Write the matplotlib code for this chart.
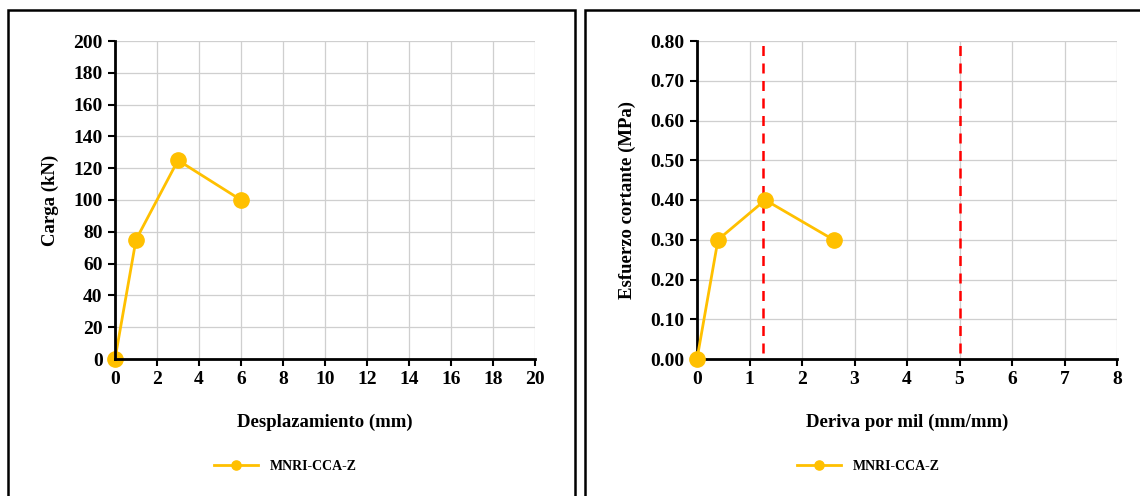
import matplotlib
matplotlib.use('Agg')
import matplotlib.pyplot as plt
from matplotlib.patches import Rectangle

# datos
desp = [0, 1, 3, 6]
carga = [0, 75, 125, 100]
deriva = [0, 0.4, 1.3, 2.6]
esfuerzo = [0, 0.30, 0.40, 0.30]
limites = [1.25, 5]
serie = 'MNRI-CCA-Z'

plt.rcParams['font.family'] = ['Liberation Serif', 'DejaVu Serif']
plt.rcParams['font.weight'] = 'bold'

color = '#FFC000'
fig = plt.figure(figsize=(11.4, 4.96), dpi=100)

# marcos de cada panel
for x0, x1 in [(8, 575), (585, 1145)]:
    fig.patches.append(Rectangle((x0 / 1140, -0.02), (x1 - x0) / 1140, 1 - 10 / 496 + 0.02,
                                 transform=fig.transFigure, fill=False, edgecolor='black', linewidth=1.8))

def estilo(ax):
    for s in ['top', 'right']:
        ax.spines[s].set_visible(False)
    for s in ['left', 'bottom']:
        ax.spines[s].set_linewidth(2)
    ax.grid(True, color='#cfcfcf', linewidth=0.9)
    ax.set_axisbelow(True)
    ax.tick_params(direction='out', length=5, width=1.5, labelsize=14, pad=4)
    for lab in ax.get_xticklabels() + ax.get_yticklabels():
        lab.set_fontweight('bold')

ax1 = fig.add_axes([115 / 1140, 1 - 359 / 496, 420 / 1140, 318 / 496])
ax1.plot(desp, carga, color=color, marker='o', markersize=11, linewidth=2, label=serie, clip_on=False)
ax1.set_xlim(0, 20)
ax1.set_ylim(0, 200)
ax1.set_xticks(range(0, 21, 2))
ax1.set_yticks(range(0, 201, 20))
estilo(ax1)
ax1.set_xlabel('Desplazamiento (mm)', fontsize=13.5, fontweight='bold', labelpad=18)
ax1.set_ylabel('Carga (kN)', fontsize=13.5, fontweight='bold', labelpad=10)
ax1.legend(loc='center', bbox_to_anchor=(285 / 1140, 1 - 466 / 496), bbox_transform=fig.transFigure,
           frameon=False, prop={'size': 10, 'weight': 'bold'}, handlelength=3.2, markerscale=0.6)

ax2 = fig.add_axes([697 / 1140, 1 - 359 / 496, 420 / 1140, 318 / 496])
ax2.plot(deriva, esfuerzo, color=color, marker='o', markersize=11, linewidth=2, label=serie, clip_on=False, zorder=3)
for xl in limites:
    ax2.axvline(xl, ymin=0.02, ymax=1, color='red', linestyle=(0, (4, 3)), linewidth=1.8, zorder=2)
ax2.set_xlim(0, 8)
ax2.set_ylim(0, 0.8)
ax2.set_xticks(range(0, 9))
ax2.set_yticks([i / 10 for i in range(9)])
ax2.set_yticklabels([f'{i / 10:.2f}' for i in range(9)])
estilo(ax2)
ax2.set_xlabel('Deriva por mil (mm/mm)', fontsize=13.5, fontweight='bold', labelpad=18)
ax2.set_ylabel('Esfuerzo cortante (MPa)', fontsize=13.5, fontweight='bold', labelpad=10)
ax2.legend(loc='center', bbox_to_anchor=(868 / 1140, 1 - 466 / 496), bbox_transform=fig.transFigure,
           frameon=False, prop={'size': 10, 'weight': 'bold'}, handlelength=3.2, markerscale=0.6)

fig.savefig('out.png', dpi=100)
